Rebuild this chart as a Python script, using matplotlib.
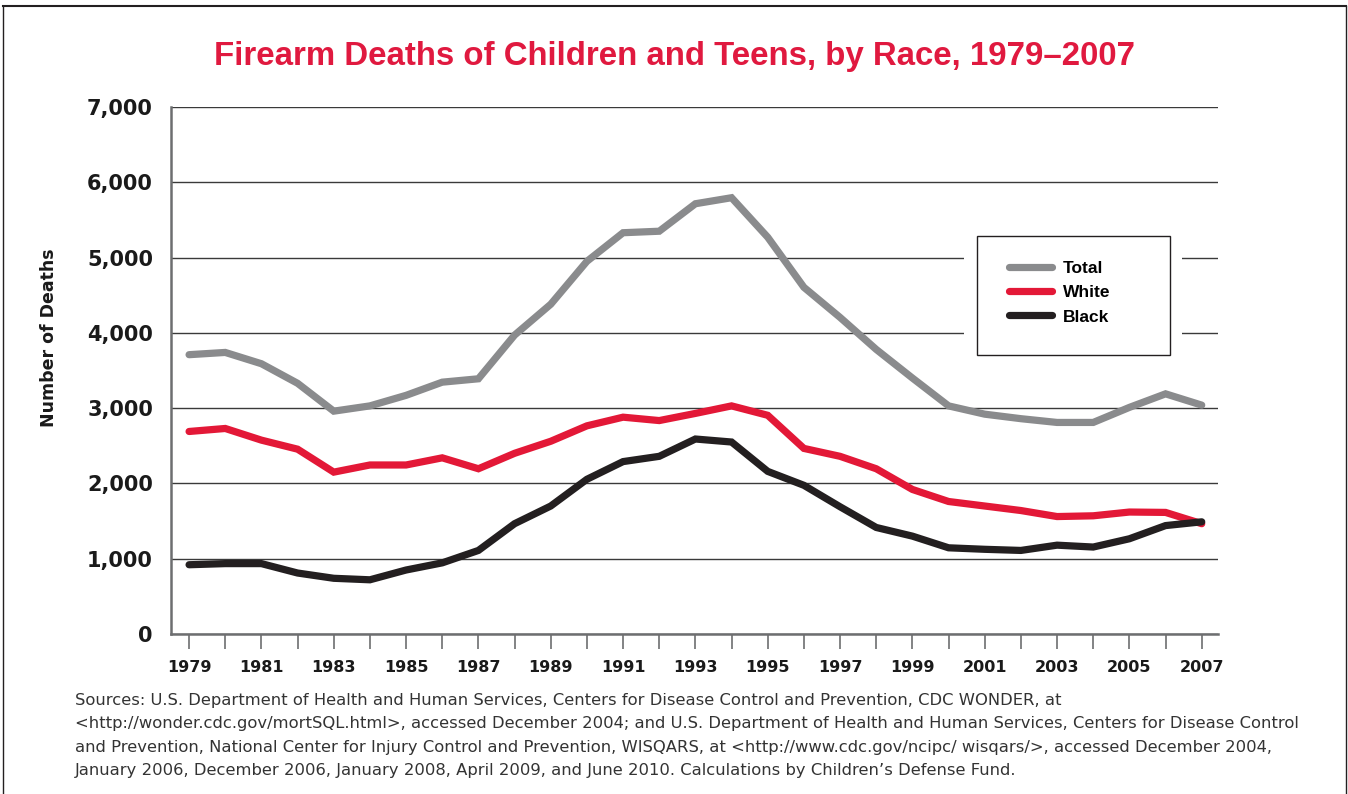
import matplotlib
matplotlib.use("Agg")
import matplotlib.pyplot as plt
from matplotlib.lines import Line2D
from matplotlib.patches import Rectangle

years = list(range(1979, 2008))
total = [3710, 3740, 3590, 3330, 2960, 3030, 3170, 3345, 3390, 3970,
         4380, 4950, 5330, 5350, 5715, 5795, 5270, 4605, 4205, 3780,
         3400, 3030, 2920, 2860, 2810, 2810, 3010, 3190, 3040]
white = [2690, 2730, 2575, 2455, 2150, 2245, 2245, 2340, 2195, 2400,
         2560, 2765, 2880, 2835, 2930, 3030, 2905, 2465, 2360, 2195,
         1920, 1760, 1700, 1640, 1560, 1570, 1620, 1615, 1465]
black = [920, 935, 935, 810, 740, 720, 850, 945, 1110, 1465,
         1700, 2055, 2290, 2360, 2590, 2550, 2160, 1975, 1690, 1415,
         1300, 1145, 1125, 1110, 1180, 1155, 1265, 1440, 1490]
series_names = ["Total", "White", "Black"]
y_ticks = [0, 1000, 2000, 3000, 4000, 5000, 6000, 7000]
y_tick_labels = ["0", "1,000", "2,000", "3,000", "4,000", "5,000", "6,000", "7,000"]
x_label_years = list(range(1979, 2008, 2))

title = "Firearm Deaths of Children and Teens, by Race, 1979\u20132007"
y_label = "Number of Deaths"
source_lines = [
    "Sources: U.S. Department of Health and Human Services, Centers for Disease Control and Prevention, CDC WONDER, at",
    "<http://wonder.cdc.gov/mortSQL.html>, accessed December 2004; and U.S. Department of Health and Human Services, Centers for Disease Control",
    "and Prevention, National Center for Injury Control and Prevention, WISQARS, at <http://www.cdc.gov/ncipc/ wisqars/>, accessed December 2004,",
    "January 2006, December 2006, January 2008, April 2009, and June 2010. Calculations by Children\u2019s Defense Fund.",
]

C_TOTAL = "#8a8b8d"
C_WHITE = "#e31837"
C_BLACK = "#231f20"
C_TITLE = "#e0193f"

plt.rcParams['font.family'] = ['DejaVu Sans']

fig = plt.figure(figsize=(13.48, 7.94), dpi=100)
W, H = 1348, 794
ax = fig.add_axes([171 / W, 1 - 634 / H, (1218 - 171) / W, (634 - 107) / H])

for vals, col in zip([total, white, black], [C_TOTAL, C_WHITE, C_BLACK]):
    ax.plot(years, vals, color=col, lw=5.2, solid_capstyle='round',
            solid_joinstyle='miter', zorder=3)

ax.set_xlim(1978.5, 2007.45)
ax.set_ylim(0, 7000)
ax.set_yticks(y_ticks)
ax.set_yticklabels(y_tick_labels, fontsize=15, fontweight='bold', color='#1a1a1a')
ax.set_xticks(years)
ax.set_xticklabels([str(y) if y in x_label_years else "" for y in years],
                   fontsize=11.5, fontweight='bold', color='#1a1a1a')
ax.tick_params(axis='y', length=0, pad=13)
ax.tick_params(axis='x', length=11, width=1.2, color='#6d6e70', pad=8, direction='out')
ax.grid(axis='y', color='#3a3a3a', lw=1.0, zorder=1)
ax.set_axisbelow(True)
for s in ['top', 'right']:
    ax.spines[s].set_visible(False)
for s in ['left', 'bottom']:
    ax.spines[s].set_color('#6d6e70')
    ax.spines[s].set_linewidth(1.8)

ax.set_ylabel(y_label, fontsize=12.5, fontweight='bold', color='#1a1a1a')
ax.yaxis.set_label_coords(-0.108, 0.5626)

# legend box with white padding that interrupts gridlines
ax.add_patch(Rectangle((964 / W, 1 - 358 / H), (1182 - 964) / W, (358 - 233) / H,
                       transform=fig.transFigure, facecolor='white', edgecolor='none',
                       zorder=2, clip_on=False))
ax.add_patch(Rectangle((977 / W, 1 - 355 / H), (1170 - 977) / W, (355 - 236) / H,
                       transform=fig.transFigure, facecolor='white', edgecolor='#231f20',
                       lw=1.0, zorder=4, clip_on=False))
handles = [Line2D([0], [0], color=c, lw=5.2, solid_capstyle='round') for c in [C_TOTAL, C_WHITE, C_BLACK]]
leg = ax.legend(handles, series_names, loc='upper left',
                bbox_to_anchor=(1009 / W, 1 - 261 / H), bbox_transform=fig.transFigure,
                frameon=False, prop={'weight': 'bold', 'size': 12.5, 'family': ['Liberation Sans', 'DejaVu Sans']},
                handlelength=2.5, handletextpad=0.6, labelspacing=0.52,
                borderpad=0, borderaxespad=0)
leg.set_zorder(5)

fig.text(0.5, 1 - 65 / H, title, ha='center', va='baseline', fontsize=23.8,
         fontweight='bold', color=C_TITLE, family=['Liberation Sans', 'DejaVu Sans'])

for i, line in enumerate(source_lines):
    fig.text(75 / W, 1 - (705 + i * 23.4) / H, line, ha='left', va='baseline',
             fontsize=11.8, color='#333333')

# outer frame
fig.add_artist(Line2D([3 / W, 3 / W], [0, 1 - 6 / H], transform=fig.transFigure, color='#231f20', lw=1))
fig.add_artist(Line2D([1346 / W, 1346 / W], [0, 1 - 6 / H], transform=fig.transFigure, color='#231f20', lw=1))
fig.add_artist(Line2D([3 / W, 1346 / W], [1 - 6 / H, 1 - 6 / H], transform=fig.transFigure, color='#231f20', lw=1.5))

fig.savefig("out.png", dpi=100)
